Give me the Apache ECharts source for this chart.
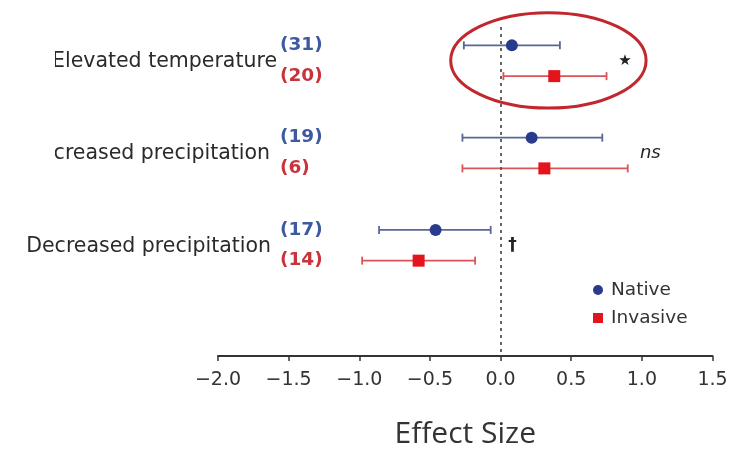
<!DOCTYPE html>
<html>
<head>
<meta charset="utf-8">
<script src="https://cdn.jsdelivr.net/npm/echarts@6/dist/echarts.min.js"></script>
<style>
html,body{margin:0;padding:0;background:#fff;}
#chart{width:746px;height:454px;}
</style>
</head>
<body>
<div id="chart"></div>
<script>
// ---- data ----
const groups = ['Elevated temperature', 'Increased precipitation', 'Decreased precipitation'];
const nativeN = [31, 19, 17];
const invasiveN = [20, 6, 14];
const nativeMean = [0.08, 0.22, -0.46];
const nativeLow = [-0.26, -0.27, -0.86];
const nativeHigh = [0.42, 0.72, -0.07];
const invasiveMean = [0.38, 0.31, -0.58];
const invasiveLow = [0.02, -0.27, -0.98];
const invasiveHigh = [0.75, 0.90, -0.18];
const significance = ['\u2605', 'ns', '\u2020'];
const xTicks = [-2.0, -1.5, -1.0, -0.5, 0.0, 0.5, 1.0, 1.5];
const seriesNames = ['Native', 'Invasive'];

// ---- layout (not data) ----
const FONT = 'DejaVu Sans';
const groupCenter = i => 9.6 - 3 * i;
const rowOffset = 0.5;
const labelRightPx = [277, 270, 271];
const sigX = [0.88, 1.06, 0.085];
const sigStyle = [
  {fontSize: 15, fontStyle: 'normal', fontWeight: 'normal'},
  {fontSize: 18, fontStyle: 'italic', fontWeight: 'normal'},
  {fontSize: 17, fontStyle: 'normal', fontWeight: 'bold'}
];

const nativeColor = '#2a3a8c', nativeLine = '#5a6795';
const invasiveColor = '#e4141c', invasiveLine = '#d95456';

function errData(low, high, off) {
  return groups.map((g, i) => [low[i], high[i], groupCenter(i) + off]);
}
function ptData(mean, off) {
  return groups.map((g, i) => [mean[i], groupCenter(i) + off]);
}
function errRender(color) {
  return function (params, api) {
    const y = api.value(2);
    const p1 = api.coord([api.value(0), y]);
    const p2 = api.coord([api.value(1), y]);
    const h = 4;
    const st = {stroke: color, lineWidth: 1.8};
    return {
      type: 'group',
      children: [
        {type: 'line', shape: {x1: p1[0], y1: p1[1], x2: p2[0], y2: p2[1]}, style: st},
        {type: 'line', shape: {x1: p1[0], y1: p1[1] - h, x2: p1[0], y2: p1[1] + h}, style: st},
        {type: 'line', shape: {x1: p2[0], y1: p2[1] - h, x2: p2[0], y2: p2[1] + h}, style: st}
      ]
    };
  };
}

const chart = echarts.init(document.getElementById('chart'), null, {renderer: 'canvas'});
const option = {
  animation: false,
  backgroundColor: '#ffffff',
  grid: {left: 218, right: 33.5, top: 10, bottom: 93},
  xAxis: {
    type: 'value',
    min: xTicks[0],
    max: xTicks[xTicks.length - 1],
    interval: 0.5,
    axisLine: {show: true, onZero: false, lineStyle: {color: '#333', width: 2}},
    axisTick: {show: true, length: 5, lineStyle: {color: '#333', width: 1.5}},
    splitLine: {show: false},
    axisLabel: {
      margin: 15,
      fontFamily: FONT,
      fontSize: 19,
      color: '#333',
      formatter: v => (v < 0 ? '\u2212' : '') + Math.abs(v).toFixed(1)
    },
    name: 'Effect Size',
    nameLocation: 'middle',
    nameGap: 63,
    nameTextStyle: {fontFamily: 'Open Sans', fontSize: 30, color: '#333'}
  },
  yAxis: {
    type: 'value', min: 0, max: 11.25,
    show: false, splitLine: {show: false}
  },
  legend: {
    data: [{name: 'Native', icon: 'circle'}, {name: 'Invasive', icon: 'rect'}],
    orient: 'vertical',
    left: 588, top: 275,
    itemWidth: 10, itemHeight: 10, itemGap: 8,
    textStyle: {fontFamily: FONT, fontSize: 18.5, color: '#333', lineHeight: 20, padding: [0, 0, 0, 3]},
    selectedMode: false
  },
  graphic: [
    {type: 'rect', z: 100, shape: {x: 0, y: 20, width: 55, height: 165}, style: {fill: '#fff'}},
    {type: 'ellipse', z: 100, shape: {cx: 548.4, cy: 60.4, rx: 97.7, ry: 47.7},
     style: {fill: 'none', stroke: '#c2272e', lineWidth: 3}}
  ],
  series: [
    {
      name: 'refline', type: 'custom', silent: true, data: [],
      renderItem: () => null,
      markLine: {
        silent: true, symbol: 'none', label: {show: false},
        lineStyle: {color: '#555', width: 1.8, type: [3, 4]},
        data: [[{coord: [0, 10.7]}, {coord: [0, 0]}]]
      }
    },
    {
      name: 'Native err', type: 'custom', silent: true, clip: false,
      data: errData(nativeLow, nativeHigh, rowOffset),
      encode: {x: [0, 1], y: 2},
      renderItem: errRender(nativeLine)
    },
    {
      name: 'Invasive err', type: 'custom', silent: true, clip: false,
      data: errData(invasiveLow, invasiveHigh, -rowOffset),
      encode: {x: [0, 1], y: 2},
      renderItem: errRender(invasiveLine)
    },
    {
      name: seriesNames[0], type: 'scatter', symbol: 'circle', symbolSize: 12,
      itemStyle: {color: nativeColor, opacity: 1},
      data: ptData(nativeMean, rowOffset), z: 5
    },
    {
      name: seriesNames[1], type: 'scatter', symbol: 'rect', symbolSize: 12,
      itemStyle: {color: invasiveColor, opacity: 1},
      data: ptData(invasiveMean, -rowOffset), z: 5
    },
    {
      name: 'labels', type: 'custom', silent: true, clip: false, z: 3,
      data: groups.map((g, i) => [sigX[i], groupCenter(i), i]),
      encode: {x: 0, y: 1},
      renderItem: function (params, api) {
        const i = api.value(2);
        const c = api.coord([0, groupCenter(i)]);
        const yn = api.coord([0, groupCenter(i) + rowOffset])[1];
        const yi = api.coord([0, groupCenter(i) - rowOffset])[1];
        const sp = api.coord([api.value(0), groupCenter(i)]);
        return {
          type: 'group',
          children: [
            {type: 'text', x: labelRightPx[i], y: c[1] + 1,
             style: {text: groups[i], fontFamily: FONT, fontSize: 20.5, fill: '#2a2a2a',
                     align: 'right', verticalAlign: 'middle'}},
            {type: 'text', x: 280, y: yn,
             style: {text: '(' + nativeN[i] + ')', fontFamily: FONT, fontSize: 18.5, fontWeight: 'bold',
                     fill: '#3d5a9e', align: 'left', verticalAlign: 'middle'}},
            {type: 'text', x: 280, y: yi,
             style: {text: '(' + invasiveN[i] + ')', fontFamily: FONT, fontSize: 18.5, fontWeight: 'bold',
                     fill: '#c8343b', align: 'left', verticalAlign: 'middle'}},
            {type: 'text', x: sp[0], y: sp[1],
             style: Object.assign({text: significance[i], fontFamily: FONT, fill: '#222',
                     align: 'center', verticalAlign: 'middle'}, sigStyle[i])}
          ]
        };
      }
    }
  ]
};
chart.setOption(option);
</script>
</body>
</html>
